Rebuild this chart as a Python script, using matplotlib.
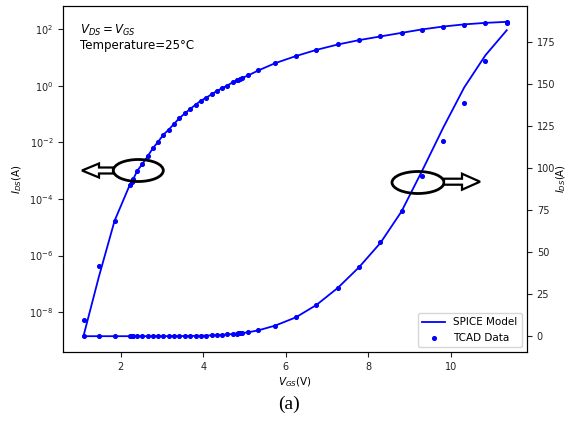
import numpy as np
import matplotlib
matplotlib.use("Agg")
import matplotlib.pyplot as plt
from matplotlib.patches import Ellipse, FancyArrow

# gate voltage sweep (V)
vgs = [1.10, 1.47, 1.85, 2.22, 2.26, 2.30, 2.40, 2.52, 2.65, 2.78, 2.91, 3.03,
       3.16, 3.29, 3.42, 3.55, 3.68, 3.81, 3.94, 4.07, 4.20, 4.33, 4.46, 4.58,
       4.71, 4.81, 4.85, 4.89, 4.93, 5.09, 5.33, 5.74, 6.24, 6.74, 7.26, 7.77,
       8.29, 8.80, 9.30, 9.81, 10.32, 10.83, 11.35]

# TCAD drain current (A)
tcad_ids = [5.4e-9, 4.4e-7, 1.7e-5, 3.2e-4, 4.0e-4, 5.0e-4, 1.0e-3, 1.7e-3,
            3.2e-3, 6.3e-3, 1.07e-2, 1.86e-2, 2.8e-2, 4.5e-2, 7.2e-2, 0.105,
            0.151, 0.214, 0.295, 0.38, 0.50, 0.66, 0.83, 1.02, 1.32, 1.55,
            1.62, 1.74, 1.86, 2.34, 3.47, 6.3, 11.2, 18.6, 28.8, 41.0, 56.2,
            74.2, 95.0, 116.0, 138.5, 163.5, 186.0]

# SPICE model drain current (A)
spice_ids = [1.5e-9, 1.8e-7, 1.7e-5, 3.2e-4, 4.0e-4, 5.0e-4, 1.0e-3, 1.7e-3,
             3.2e-3, 6.3e-3, 1.07e-2, 1.86e-2, 2.8e-2, 4.5e-2, 7.2e-2, 0.105,
             0.151, 0.214, 0.295, 0.38, 0.50, 0.66, 0.83, 1.02, 1.32, 1.55,
             1.62, 1.74, 1.86, 2.34, 3.47, 6.3, 11.2, 18.6, 28.8, 41.0, 55.5,
             74.2, 98.4, 124.0, 148.0, 167.0, 182.0]

W, H = 568, 421
fig = plt.figure(figsize=(W / 100, H / 100), dpi=100)
ax1 = fig.add_axes([63 / W, 1 - 352 / H, (527 - 63) / W, (352 - 6) / H])
ax2 = ax1.twinx()

blue = "#0000ff"
ax1.plot(vgs, spice_ids, color=blue, lw=1.3)
ax1.scatter(vgs, tcad_ids, color=blue, s=7, zorder=3)
ax1.set_yscale("log")
ax1.set_ylim(3.9e-10, 6.6e2)
ax1.set_xlim(0.6, 11.84)
ax1.set_yticks([1e-8, 1e-6, 1e-4, 1e-2, 1e0, 1e2])
ax1.yaxis.set_minor_locator(matplotlib.ticker.NullLocator())
ax1.set_xticks([2, 4, 6, 8, 10])

l1, = ax2.plot(vgs, spice_ids, color=blue, lw=1.3, label="SPICE Model")
s1 = ax2.scatter(vgs, tcad_ids, color=blue, s=7, zorder=3, label="TCAD Data")
ax2.set_ylim(-9.4, 196.4)
ax2.set_yticks([0, 25, 50, 75, 100, 125, 150, 175])

for a in (ax1, ax2):
    a.tick_params(labelsize=7, colors="#222222")
ax1.set_ylabel("$I_{DS}$(A)", fontsize=7.5, labelpad=4)
ax2.set_ylabel("$I_{DS}$(A)", fontsize=7.2)
ax2.yaxis.set_label_coords(1.058, 0.5)
ax1.set_xlabel("$V_{GS}$(V)", fontsize=7.5, labelpad=3)

ax2.legend(handles=[l1, s1], loc="lower right", fontsize=7.5,
           handlelength=2.2, borderaxespad=0.5)

fig.text(80 / W, 1 - 30 / H, "$V_{DS}=V_{GS}$", fontsize=8.5, va="center")
fig.text(80 / W, 1 - 45 / H, "Temperature=25°C", fontsize=8.5, va="center")

# ellipses marking which axis each curve belongs to
fig.add_artist(Ellipse((138.3 / W, 1 - 170.5 / H), 50 / W, 22 / H,
                       transform=fig.transFigure, fill=False, ec="black", lw=2, zorder=5))
fig.add_artist(Ellipse((418 / W, 1 - 182.5 / H), 52 / W, 22 / H,
                       transform=fig.transFigure, fill=False, ec="black", lw=2, zorder=5))
fig.add_artist(FancyArrow(113 / W, 1 - 170.5 / H, -31 / W, 0, width=6 / H,
                          head_width=14 / H, head_length=17 / W,
                          length_includes_head=True, transform=fig.transFigure,
                          fc="white", ec="black", lw=1.6, zorder=5))
fig.add_artist(FancyArrow(444 / W, 1 - 181.7 / H, 36 / W, 0, width=6 / H,
                          head_width=16 / H, head_length=18 / W,
                          length_includes_head=True, transform=fig.transFigure,
                          fc="white", ec="black", lw=1.6, zorder=5))

fig.text(289 / W, 1 - 404 / H, "(a)", fontsize=14, family="Liberation Serif",
         ha="center", va="center")

fig.savefig("out.png", dpi=100)
